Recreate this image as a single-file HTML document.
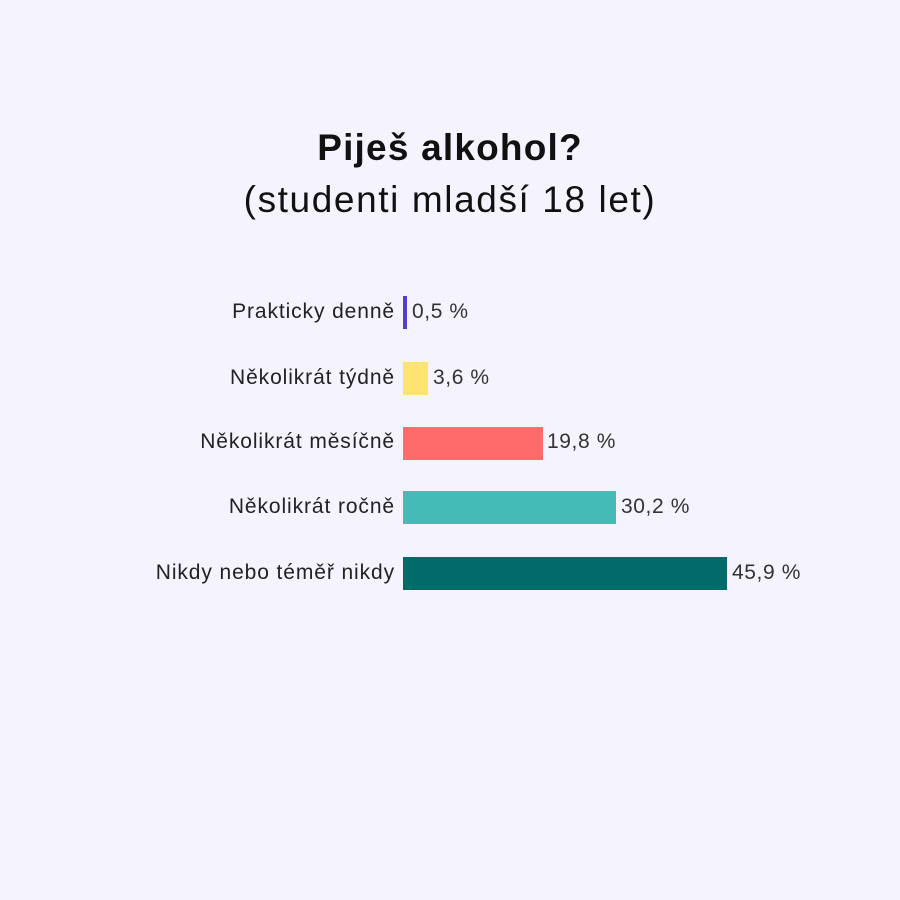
<!DOCTYPE html>
<html><head><meta charset="utf-8"><style>
body{margin:0;width:900px;height:900px;background:#f4f3fe;font-family:"Liberation Sans",sans-serif;color:#111;position:relative;overflow:hidden}
.t{position:absolute;left:0;width:900px;text-align:center;font-size:37px}
.l{position:absolute;right:505px;font-size:21px;letter-spacing:0.9px;color:#222;white-space:nowrap}
.b{position:absolute;left:403px;height:33px}
.v{position:absolute;font-size:21px;letter-spacing:0.6px;color:#333;white-space:nowrap}
</style></head><body>
<div class="t" style="top:127px;font-weight:bold;letter-spacing:1.2px">Piješ alkohol?</div>
<div class="t" style="top:179px;letter-spacing:1.6px">(studenti mladší 18 let)</div>

<div class="l" style="top:300px">Prakticky denně</div>
<div class="b" style="top:296px;width:4px;background:#5a3bd0"></div>
<div class="v" style="top:300px;left:412px">0,5 %</div>

<div class="l" style="top:366px">Několikrát týdně</div>
<div class="b" style="top:362px;width:25px;background:#fde36f"></div>
<div class="v" style="top:366px;left:433px">3,6 %</div>

<div class="l" style="top:430px">Několikrát měsíčně</div>
<div class="b" style="top:427px;width:140px;background:#ff6b6b"></div>
<div class="v" style="top:430px;left:547px">19,8 %</div>

<div class="l" style="top:495px">Několikrát ročně</div>
<div class="b" style="top:491px;width:213px;background:#45bbb8"></div>
<div class="v" style="top:495px;left:621px">30,2 %</div>

<div class="l" style="top:561px">Nikdy nebo téměř nikdy</div>
<div class="b" style="top:557px;width:324px;background:#006b68"></div>
<div class="v" style="top:561px;left:732px">45,9 %</div>
</body></html>
